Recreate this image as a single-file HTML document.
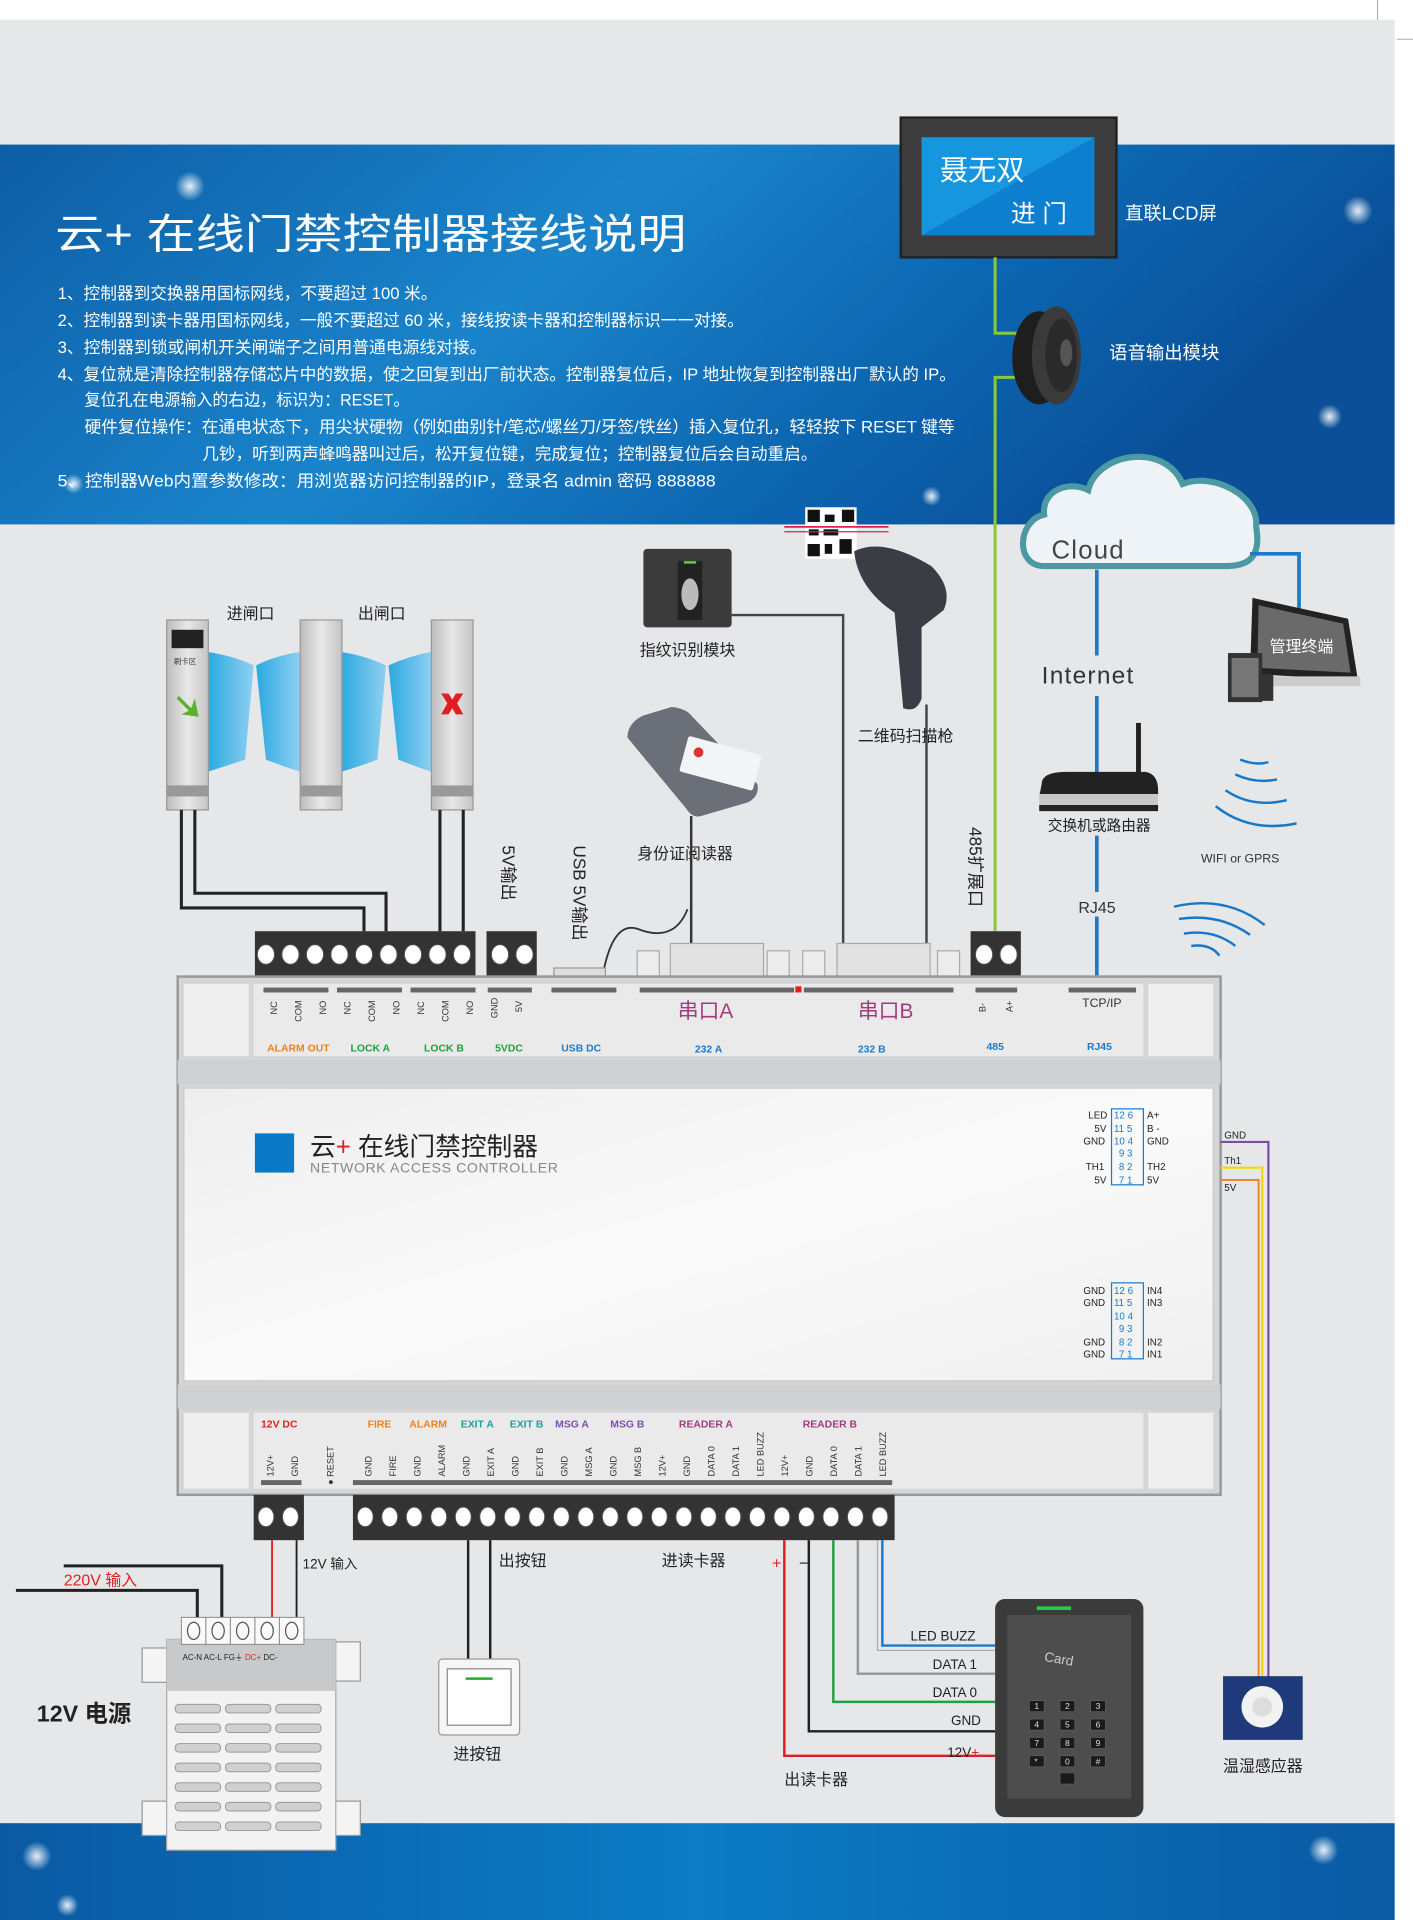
<!DOCTYPE html>
<html><head><meta charset="utf-8"><style>
html,body{margin:0;padding:0;background:#fff;}
svg{display:block;}
text{font-family:"Liberation Sans","Noto Sans CJK SC",sans-serif;}
</style></head><body>
<svg width="1413" height="1920" viewBox="0 0 1153 1567" preserveAspectRatio="none" xmlns="http://www.w3.org/2000/svg">
<defs>
<linearGradient id="blue" x1="0" y1="0" x2="1" y2="0.3">
<stop offset="0" stop-color="#0d5ea6"/><stop offset="0.45" stop-color="#1a84cb"/><stop offset="0.75" stop-color="#0c66b0"/><stop offset="1" stop-color="#0a4f98"/></linearGradient>
<linearGradient id="blue2" x1="0" y1="0" x2="1" y2="0">
<stop offset="0" stop-color="#0a5aa3"/><stop offset="0.5" stop-color="#0b7cc5"/><stop offset="1" stop-color="#0a5aa3"/></linearGradient>
<linearGradient id="glass" x1="0" y1="0" x2="1" y2="0"><stop offset="0" stop-color="#2aa9e0"/><stop offset="1" stop-color="#8fd0f2"/></linearGradient>
<linearGradient id="post" x1="0" y1="0" x2="1" y2="0"><stop offset="0" stop-color="#bcbcbc"/><stop offset="0.5" stop-color="#e8e8e8"/><stop offset="1" stop-color="#c4c4c4"/></linearGradient>
<linearGradient id="panel" x1="0" y1="0" x2="1" y2="1"><stop offset="0" stop-color="#eeeeee"/><stop offset="0.5" stop-color="#fafafa"/><stop offset="1" stop-color="#f0f0f0"/></linearGradient>
<radialGradient id="star"><stop offset="0" stop-color="#fff" stop-opacity="0.9"/><stop offset="1" stop-color="#fff" stop-opacity="0"/></radialGradient>
</defs>
<rect x="0" y="0" width="1153" height="1567" fill="#fff"/>
<rect x="0" y="16" width="1138" height="1551" fill="#e6e7e9"/>
<line x1="1124" y1="0" x2="1124" y2="16" stroke="#999" stroke-width="0.7"/>
<line x1="1140" y1="32" x2="1153" y2="32" stroke="#999" stroke-width="0.7"/>
<!-- blue band -->
<rect x="0" y="118" width="1138" height="310" fill="url(#blue)"/>
<circle cx="155" cy="152" r="12" fill="url(#star)"/><circle cx="1108" cy="172" r="12" fill="url(#star)"/><circle cx="1085" cy="340" r="10" fill="url(#star)"/><circle cx="60" cy="395" r="8" fill="url(#star)"/><circle cx="900" cy="150" r="6" fill="url(#star)"/><circle cx="760" cy="405" r="8" fill="url(#star)"/>
<rect x="0" y="1488" width="1138" height="79" fill="url(#blue2)"/>
<circle cx="30" cy="1515" r="12" fill="url(#star)"/><circle cx="1080" cy="1510" r="12" fill="url(#star)"/><circle cx="55" cy="1555" r="9" fill="url(#star)"/>
<!-- title -->
<text x="45" y="203" font-size="34" fill="#fff" textLength="515" lengthAdjust="spacingAndGlyphs">云+ 在线门禁控制器接线说明</text>
<g font-size="13.5" fill="#fff">
<text x="47" y="244" textLength="310" lengthAdjust="spacingAndGlyphs">1、控制器到交换器用国标网线，不要超过 100 米。</text>
<text x="47" y="266" textLength="560" lengthAdjust="spacingAndGlyphs">2、控制器到读卡器用国标网线，一般不要超过 60 米，接线按读卡器和控制器标识一一对接。</text>
<text x="47" y="288" textLength="350" lengthAdjust="spacingAndGlyphs">3、控制器到锁或闸机开关闸端子之间用普通电源线对接。</text>
<text x="47" y="310" textLength="733" lengthAdjust="spacingAndGlyphs">4、复位就是清除控制器存储芯片中的数据，使之回复到出厂前状态。控制器复位后，IP 地址恢复到控制器出厂默认的 IP。</text>
<text x="69" y="331" textLength="265" lengthAdjust="spacingAndGlyphs">复位孔在电源输入的右边，标识为：RESET。</text>
<text x="69" y="353" textLength="710" lengthAdjust="spacingAndGlyphs">硬件复位操作：在通电状态下，用尖状硬物（例如曲别针/笔芯/螺丝刀/牙签/铁丝）插入复位孔，轻轻按下 RESET 键等</text>
<text x="165" y="375" textLength="502" lengthAdjust="spacingAndGlyphs">几钞，听到两声蜂鸣器叫过后，松开复位键，完成复位；控制器复位后会自动重启。</text>
<text x="47" y="397" textLength="537" lengthAdjust="spacingAndGlyphs">5、控制器Web内置参数修改：用浏览器访问控制器的IP，登录名 admin  密码 888888</text>
</g>
<!-- LCD -->
<rect x="735" y="96" width="176" height="114" fill="#3d3c3c" stroke="#222" stroke-width="2"/>
<rect x="752" y="112" width="141" height="80" fill="#1596df"/>
<polygon points="752,192 893,112 893,192" fill="#0c80cf"/>
<text x="767" y="147" font-size="23" fill="#fff">聂无双</text>
<text x="825" y="181" font-size="20" fill="#fff">进 门</text>
<text x="918" y="179" font-size="15" fill="#fff">直联LCD屏</text>
<!-- green line -->
<polyline points="812,210 812,272 830,272" fill="none" stroke="#8cc63e" stroke-width="2.5"/>
<polyline points="830,308 812,308 812,760" fill="none" stroke="#8cc63e" stroke-width="2.5"/>
<!-- speaker -->
<ellipse cx="848" cy="292" rx="22" ry="38" fill="#1e1e1e"/>
<ellipse cx="862" cy="290" rx="20" ry="40" fill="#3a3a3a"/>
<ellipse cx="866" cy="290" rx="13" ry="30" fill="#2a2a2a"/>
<ellipse cx="870" cy="288" rx="5" ry="11" fill="#555"/>
<text x="905" y="293" font-size="15" fill="#fff">语音输出模块</text>
<!-- cloud -->
<path d="M852,462 C828,462 830,425 852,420 C850,400 872,392 888,400 C895,370 950,360 965,395 C990,385 1028,405 1025,430 C1030,458 1015,462 1000,462 Z" fill="#eef3f7" stroke="#4b9aa3" stroke-width="5"/>
<text x="858" y="456" font-size="21" fill="#444" letter-spacing="1">Cloud</text>
<polyline points="1020,452 1060,452 1060,505" fill="none" stroke="#1c7ac8" stroke-width="3"/>
<line x1="895" y1="465" x2="895" y2="535" stroke="#1c7ac8" stroke-width="3"/>
<line x1="895" y1="568" x2="895" y2="632" stroke="#1c7ac8" stroke-width="3"/>
<line x1="895" y1="682" x2="895" y2="728" stroke="#1c7ac8" stroke-width="3"/>
<line x1="895" y1="748" x2="895" y2="800" stroke="#1c7ac8" stroke-width="3"/>
<text x="850" y="558" font-size="20" fill="#333" letter-spacing="1">Internet</text>
<!-- monitor -->
<polygon points="1022,488 1100,505 1108,555 1020,550" fill="#222"/>
<polygon points="1027,494 1096,509 1102,549 1026,545" fill="#6a6a6a"/>
<rect x="1022" y="552" width="88" height="8" fill="#ccc"/>
<text x="1036" y="532" font-size="13" fill="#fff">管理终端</text>
<rect x="1002" y="533" width="28" height="40" fill="#333"/><rect x="1005" y="537" width="22" height="32" fill="#777"/>
<rect x="1027" y="550" width="12" height="22" fill="#333"/>
<!-- router -->
<rect x="927" y="590" width="4" height="45" fill="#222"/>
<path d="M850,640 Q850,630 870,630 L935,630 Q945,632 945,645 L945,650 L848,650 Z" fill="#222"/>
<rect x="848" y="648" width="97" height="10" fill="#c8c8c8"/>
<rect x="848" y="657" width="97" height="5" fill="#222"/>
<text x="855" y="678" font-size="12" fill="#222">交换机或路由器</text>
<g fill="none" stroke="#1878c8" stroke-width="2">
<path d="M1012,620 Q1025,625 1035,622"/><path d="M1008,632 Q1025,640 1042,636"/><path d="M1000,645 Q1022,660 1050,653"/><path d="M992,658 Q1020,680 1058,672"/>
<path d="M958,740 Q1000,730 1032,755"/><path d="M962,750 Q995,745 1020,763"/><path d="M966,762 Q990,758 1008,772"/><path d="M972,772 Q988,770 995,780"/>
</g>
<text x="980" y="704" font-size="10" fill="#333">WIFI or GPRS</text>
<text x="880" y="745" font-size="13" fill="#333">RJ45</text>
<!-- turnstiles -->
<path d="M169,532 Q190,535 207,543 L200,620 Q185,625 169,630 Z" fill="url(#glass)"/>
<path d="M209,543 Q225,535 245,532 L245,630 Q230,625 217,620 Z" fill="url(#glass)"/>
<path d="M278,532 Q298,535 315,543 L308,620 Q295,625 278,630 Z" fill="url(#glass)"/>
<path d="M317,543 Q335,535 352,532 L352,630 Q338,625 325,620 Z" fill="url(#glass)"/>
<g stroke="#999" stroke-width="1">
<rect x="136" y="506" width="34" height="155" fill="url(#post)"/>
<rect x="245" y="506" width="34" height="155" fill="url(#post)"/>
<rect x="352" y="506" width="34" height="155" fill="url(#post)"/>
</g>
<rect x="136" y="641" width="34" height="9" fill="#999"/><rect x="245" y="641" width="34" height="9" fill="#999"/><rect x="352" y="641" width="34" height="9" fill="#999"/>
<rect x="140" y="514" width="26" height="15" fill="#222"/>
<text x="142" y="542" font-size="6" fill="#333">刷卡区</text>
<path d="M146,568 L156,578 L159,570 L162,585 L148,583 L154,580 L144,570 Z" fill="#5bb030"/>
<path d="M360,566 L366,566 L369,571 L372,566 L378,566 L373,574 L378,583 L372,583 L369,578 L366,583 L360,583 L365,574 Z" fill="#e02020"/>
<text x="185" y="505" font-size="13" fill="#222">进闸口</text>
<text x="292" y="505" font-size="13" fill="#222">出闸口</text>
<g fill="none" stroke="#222" stroke-width="2.5">
<polyline points="148,661 148,741 297,741 297,760"/>
<polyline points="159,661 159,729 315,729 315,760"/>
<line x1="359" y1="661" x2="359" y2="760"/><line x1="378" y1="661" x2="378" y2="760"/>
</g>
<!-- fingerprint -->
<rect x="525" y="448" width="72" height="64" rx="3" fill="#3c3b3b"/>
<rect x="553" y="458" width="20" height="48" fill="#222"/>
<ellipse cx="563" cy="485" rx="7" ry="13" fill="#bbb"/>
<rect x="558" y="458" width="10" height="2" fill="#6c3"/>
<text x="522" y="535" font-size="13" fill="#222">指纹识别模块</text>
<polyline points="597,502 688,502 688,770" fill="none" stroke="#444" stroke-width="2"/>
<!-- QR -->
<rect x="657" y="414" width="42" height="42" fill="#fff"/>
<g fill="#111"><rect x="659" y="416" width="10" height="10"/><rect x="687" y="416" width="10" height="10"/><rect x="659" y="444" width="10" height="10"/><rect x="673" y="420" width="8" height="6"/><rect x="672" y="432" width="12" height="5"/><rect x="685" y="440" width="10" height="12"/><rect x="660" y="432" width="8" height="5"/><rect x="673" y="444" width="6" height="8"/></g>
<line x1="640" y1="430" x2="725" y2="430" stroke="#e0204a" stroke-width="1.5"/><line x1="640" y1="434" x2="725" y2="434" stroke="#e0204a" stroke-width="1"/>
<!-- scanner -->
<path d="M697,450 Q720,438 760,462 Q778,480 770,498 L752,512 L752,570 Q748,582 737,578 L730,500 Q700,480 697,450 Z" fill="#3b3d45"/>
<line x1="756" y1="575" x2="756" y2="770" stroke="#444" stroke-width="2"/>
<text x="700" y="605" font-size="13" fill="#222">二维码扫描枪</text>
<!-- ID reader -->
<path d="M512,602 Q512,590 525,584 L548,577 Q560,578 565,585 L618,640 Q620,650 610,655 L572,666 Q565,668 560,660 Z" fill="#6b6f78"/>
<rect x="557" y="608" width="62" height="30" rx="2" fill="#f2f4f8" transform="rotate(15 588 623)"/>
<circle cx="570" cy="614" r="4" fill="#d33"/>
<text x="520" y="701" font-size="13" fill="#222">身份证阅读器</text>
<path d="M564,666 L564,770" stroke="#333" stroke-width="2" fill="none"/>
<path d="M561,742 Q550,770 520,758 Q500,752 492,795" stroke="#333" stroke-width="1.5" fill="none"/>
<!-- vertical labels -->
<text x="0" y="0" font-size="14" fill="#222" transform="translate(410,690) rotate(90)">5V输出</text>
<text x="0" y="0" font-size="14" fill="#222" transform="translate(468,690) rotate(90)">USB 5V输出</text>
<text x="0" y="0" font-size="14" fill="#222" transform="translate(791,675) rotate(90)">485扩展口</text>
<!-- top connectors -->
<rect x="452" y="790" width="42" height="8" fill="#ddd" stroke="#999"/>
<g fill="#ececec" stroke="#aaa">
<rect x="520" y="776" width="18" height="22"/><rect x="626" y="776" width="18" height="22"/>
<rect x="655" y="776" width="18" height="22"/><rect x="765" y="776" width="18" height="22"/>
<rect x="547" y="770" width="76" height="28" fill="#e2e2e2"/><rect x="683" y="770" width="76" height="28" fill="#e2e2e2"/>
</g>
<g id="tt">
<rect x="208" y="760" width="180" height="38" fill="#333"/>
<rect x="397" y="760" width="41" height="38" fill="#333"/>
<rect x="792" y="760" width="41" height="38" fill="#333"/>
</g>
<g fill="#fff" stroke="#555" stroke-width="0.8">
<ellipse cx="217" cy="779" rx="7" ry="8"/><ellipse cx="237" cy="779" rx="7" ry="8"/><ellipse cx="257" cy="779" rx="7" ry="8"/>
<ellipse cx="277" cy="779" rx="7" ry="8"/><ellipse cx="297" cy="779" rx="7" ry="8"/><ellipse cx="317" cy="779" rx="7" ry="8"/>
<ellipse cx="337" cy="779" rx="7" ry="8"/><ellipse cx="357" cy="779" rx="7" ry="8"/><ellipse cx="377" cy="779" rx="7" ry="8"/>
<ellipse cx="408" cy="779" rx="7" ry="8"/><ellipse cx="428" cy="779" rx="7" ry="8"/>
<ellipse cx="803" cy="779" rx="7" ry="8"/><ellipse cx="823" cy="779" rx="7" ry="8"/>
</g>
<!-- controller -->
<rect x="145" y="797" width="851" height="423" fill="#d4d5d7" stroke="#999" stroke-width="2"/>
<rect x="150" y="803" width="53" height="59" fill="#eeeeef"/>
<rect x="207" y="803" width="726" height="59" fill="#eaeaeb"/>
<rect x="937" y="803" width="53" height="59" fill="#eeeeef"/>
<rect x="145" y="865" width="851" height="20" fill="#cfd0d2"/>
<rect x="150" y="888" width="840" height="239" fill="url(#panel)" stroke="#c8c8c8"/>
<rect x="145" y="1130" width="851" height="20" fill="#cfd0d2"/>
<rect x="150" y="1153" width="53" height="62" fill="#eeeeef"/>
<rect x="207" y="1153" width="726" height="62" fill="#eaeaeb"/>
<rect x="937" y="1153" width="53" height="62" fill="#eeeeef"/>
<g fill="#666">
<rect x="215" y="806" width="53" height="4"/><rect x="275" y="806" width="53" height="4"/><rect x="335" y="806" width="53" height="4"/><rect x="398" y="806" width="36" height="4"/><rect x="450" y="806" width="53" height="4"/><rect x="522" y="806" width="126" height="4"/><rect x="656" y="806" width="122" height="4"/><rect x="796" y="806" width="34" height="4"/><rect x="872" y="806" width="55" height="4"/>
</g>
<rect x="649" y="805" width="5" height="5" fill="#e02020"/>
<g font-size="7.5" fill="#333">
<text transform="translate(226,828) rotate(-90)">NC</text><text transform="translate(246,834) rotate(-90)">COM</text><text transform="translate(266,828) rotate(-90)">NO</text>
<text transform="translate(286,828) rotate(-90)">NC</text><text transform="translate(306,834) rotate(-90)">COM</text><text transform="translate(326,828) rotate(-90)">NO</text>
<text transform="translate(346,828) rotate(-90)">NC</text><text transform="translate(366,834) rotate(-90)">COM</text><text transform="translate(386,828) rotate(-90)">NO</text>
<text transform="translate(406,831) rotate(-90)">GND</text><text transform="translate(426,826) rotate(-90)">5V</text>
<text transform="translate(804,826) rotate(-90)">B-</text><text transform="translate(826,826) rotate(-90)">A+</text>
</g>
<text x="883" y="822" font-size="10" fill="#333">TCP/IP</text>
<text x="553" y="831" font-size="17" fill="#a23a7c">串口A</text>
<text x="700" y="831" font-size="17" fill="#a23a7c">串口B</text>
<g font-size="8.5" font-weight="bold">
<text x="218" y="858" fill="#f08020">ALARM OUT</text><text x="286" y="858" fill="#22a040">LOCK A</text><text x="346" y="858" fill="#22a040">LOCK B</text><text x="404" y="858" fill="#22a040">5VDC</text>
<text x="458" y="858" fill="#1a7acc">USB DC</text><text x="567" y="859" fill="#1a7acc">232  A</text><text x="700" y="859" fill="#1a7acc">232  B</text><text x="805" y="857" fill="#1a7acc">485</text><text x="887" y="857" fill="#1a7acc">RJ45</text>
</g>
<!-- logo -->
<rect x="208" y="925" width="32" height="32" fill="#0a7ac8"/>
<text x="253" y="943" font-size="21" fill="#222">云<tspan fill="#e02020">+</tspan> 在线门禁控制器</text>
<text x="253" y="957" font-size="11.5" fill="#888" letter-spacing="0.5">NETWORK ACCESS CONTROLLER</text>
<!-- pin tables -->
<g font-size="8" fill="#222">
<rect x="907" y="905" width="26" height="62" fill="none" stroke="#1a7acc"/>
<text x="888" y="913">LED</text><text x="893" y="924">5V</text><text x="884" y="934">GND</text><text x="886" y="955">TH1</text><text x="893" y="966">5V</text>
<text x="936" y="913">A+</text><text x="936" y="924">B -</text><text x="936" y="934">GND</text><text x="936" y="955">TH2</text><text x="936" y="966">5V</text>
<g fill="#1a7acc"><text x="909" y="913">12  6</text><text x="909" y="924">11  5</text><text x="909" y="934">10  4</text><text x="913" y="944">9  3</text><text x="913" y="955">8  2</text><text x="913" y="966">7  1</text></g>
<rect x="907" y="1047" width="26" height="62" fill="none" stroke="#1a7acc"/>
<text x="884" y="1056">GND</text><text x="884" y="1066">GND</text><text x="884" y="1098">GND</text><text x="884" y="1108">GND</text>
<text x="936" y="1056">IN4</text><text x="936" y="1066">IN3</text><text x="936" y="1098">IN2</text><text x="936" y="1108">IN1</text>
<g fill="#1a7acc"><text x="909" y="1056">12  6</text><text x="909" y="1066">11  5</text><text x="909" y="1077">10  4</text><text x="913" y="1087">9  3</text><text x="913" y="1098">8  2</text><text x="913" y="1108">7  1</text></g>
</g>
<!-- right wires -->
<polyline points="996,932 1035,932 1035,1370" fill="none" stroke="#7a4fa0" stroke-width="1.8"/>
<polyline points="996,953 1030,953 1030,1370" fill="none" stroke="#f5d800" stroke-width="1.8"/>
<polyline points="996,963 1027,963 1027,1370" fill="none" stroke="#f08020" stroke-width="1.5"/>
<g font-size="8" fill="#222"><text x="999" y="929">GND</text><text x="999" y="950">Th1</text><text x="999" y="972">5V</text></g>
<!-- bottom strip labels -->
<g font-size="8.5" font-weight="bold">
<text x="213" y="1165" fill="#e02020">12V  DC</text><text x="300" y="1165" fill="#f08020">FIRE</text><text x="334" y="1165" fill="#f08020">ALARM</text>
<text x="376" y="1165" fill="#20a0a0">EXIT  A</text><text x="416" y="1165" fill="#20a0a0">EXIT  B</text><text x="453" y="1165" fill="#7a4fb0">MSG  A</text><text x="498" y="1165" fill="#7a4fb0">MSG B</text>
<text x="554" y="1165" fill="#a23a7c">READER  A</text><text x="655" y="1165" fill="#a23a7c">READER  B</text>
</g>
<g font-size="7.5" fill="#333">
<text transform="translate(223,1205) rotate(-90)">12V+</text><text transform="translate(243,1205) rotate(-90)">GND</text><text transform="translate(272,1212) rotate(-90)">● RESET</text>
<text transform="translate(303,1205) rotate(-90)">GND</text><text transform="translate(323,1205) rotate(-90)">FIRE</text>
<text transform="translate(343,1205) rotate(-90)">GND</text><text transform="translate(363,1205) rotate(-90)">ALARM</text>
<text transform="translate(383,1205) rotate(-90)">GND</text><text transform="translate(403,1205) rotate(-90)">EXIT A</text>
<text transform="translate(423,1205) rotate(-90)">GND</text><text transform="translate(443,1205) rotate(-90)">EXIT B</text>
<text transform="translate(463,1205) rotate(-90)">GND</text><text transform="translate(483,1205) rotate(-90)">MSG A</text>
<text transform="translate(503,1205) rotate(-90)">GND</text><text transform="translate(523,1205) rotate(-90)">MSG B</text>
<text transform="translate(543,1205) rotate(-90)">12V+</text><text transform="translate(563,1205) rotate(-90)">GND</text><text transform="translate(583,1205) rotate(-90)">DATA 0</text><text transform="translate(603,1205) rotate(-90)">DATA 1</text><text transform="translate(623,1205) rotate(-90)">LED BUZZ</text>
<text transform="translate(643,1205) rotate(-90)">12V+</text><text transform="translate(663,1205) rotate(-90)">GND</text><text transform="translate(683,1205) rotate(-90)">DATA 0</text><text transform="translate(703,1205) rotate(-90)">DATA 1</text><text transform="translate(723,1205) rotate(-90)">LED BUZZ</text>
</g>
<g fill="#666"><rect x="213" y="1208" width="33" height="4"/><rect x="288" y="1208" width="440" height="4"/></g>
<!-- bottom terminals -->
<rect x="207" y="1220" width="41" height="37" fill="#333"/>
<rect x="288" y="1220" width="442" height="37" fill="#333"/>
<g fill="#fff" stroke="#555" stroke-width="0.8">
<ellipse cx="217" cy="1238" rx="6.5" ry="8"/><ellipse cx="237" cy="1238" rx="6.5" ry="8"/>
<ellipse cx="298" cy="1238" rx="6.5" ry="8"/><ellipse cx="318" cy="1238" rx="6.5" ry="8"/><ellipse cx="338" cy="1238" rx="6.5" ry="8"/><ellipse cx="358" cy="1238" rx="6.5" ry="8"/><ellipse cx="378" cy="1238" rx="6.5" ry="8"/><ellipse cx="398" cy="1238" rx="6.5" ry="8"/><ellipse cx="418" cy="1238" rx="6.5" ry="8"/><ellipse cx="438" cy="1238" rx="6.5" ry="8"/><ellipse cx="458" cy="1238" rx="6.5" ry="8"/><ellipse cx="478" cy="1238" rx="6.5" ry="8"/><ellipse cx="498" cy="1238" rx="6.5" ry="8"/><ellipse cx="518" cy="1238" rx="6.5" ry="8"/><ellipse cx="538" cy="1238" rx="6.5" ry="8"/><ellipse cx="558" cy="1238" rx="6.5" ry="8"/><ellipse cx="578" cy="1238" rx="6.5" ry="8"/><ellipse cx="598" cy="1238" rx="6.5" ry="8"/><ellipse cx="618" cy="1238" rx="6.5" ry="8"/><ellipse cx="638" cy="1238" rx="6.5" ry="8"/><ellipse cx="658" cy="1238" rx="6.5" ry="8"/><ellipse cx="678" cy="1238" rx="6.5" ry="8"/><ellipse cx="698" cy="1238" rx="6.5" ry="8"/><ellipse cx="718" cy="1238" rx="6.5" ry="8"/>
</g>
<!-- power wires -->
<line x1="222" y1="1257" x2="222" y2="1320" stroke="#e02020" stroke-width="1.5"/>
<line x1="242" y1="1257" x2="242" y2="1320" stroke="#222" stroke-width="1.5"/>
<polyline points="52,1278 181,1278 181,1320" fill="none" stroke="#222" stroke-width="2.5"/>
<polyline points="13,1298 161,1298 161,1320" fill="none" stroke="#222" stroke-width="2.5"/>
<text x="52" y="1294" font-size="13" fill="#e02020">220V  输入</text>
<text x="247" y="1280" font-size="11" fill="#222">12V 输入</text>
<!-- power supply -->
<rect x="116" y="1345" width="22" height="28" fill="#f4f4f4" stroke="#999"/><rect x="272" y="1340" width="22" height="32" fill="#f4f4f4" stroke="#999"/>
<rect x="116" y="1470" width="22" height="28" fill="#f4f4f4" stroke="#999"/><rect x="272" y="1470" width="22" height="28" fill="#f4f4f4" stroke="#999"/>
<rect x="136" y="1338" width="138" height="172" fill="#f2f2f2" stroke="#aaa"/>
<rect x="136" y="1338" width="138" height="42" fill="#c8c9cb"/>
<g fill="#fafafa" stroke="#888" stroke-width="0.8">
<rect x="148" y="1320" width="20" height="22"/><rect x="168" y="1320" width="20" height="22"/><rect x="188" y="1320" width="20" height="22"/><rect x="208" y="1320" width="20" height="22"/><rect x="228" y="1320" width="20" height="22"/>
</g>
<g fill="none" stroke="#555"><ellipse cx="158" cy="1331" rx="5" ry="7"/><ellipse cx="178" cy="1331" rx="5" ry="7"/><ellipse cx="198" cy="1331" rx="5" ry="7"/><ellipse cx="218" cy="1331" rx="5" ry="7"/><ellipse cx="238" cy="1331" rx="5" ry="7"/></g>
<text x="149" y="1355" font-size="6.5" fill="#222">AC-N AC-L FG⏚ <tspan fill="#e02020">DC+</tspan> DC-</text>
<g fill="#d0d0d0" stroke="#999" stroke-width="0.8">
<rect x="143" y="1391" width="37" height="7" rx="3"/><rect x="184" y="1391" width="37" height="7" rx="3"/><rect x="225" y="1391" width="37" height="7" rx="3"/>
<rect x="143" y="1407" width="37" height="7" rx="3"/><rect x="184" y="1407" width="37" height="7" rx="3"/><rect x="225" y="1407" width="37" height="7" rx="3"/>
<rect x="143" y="1423" width="37" height="7" rx="3"/><rect x="184" y="1423" width="37" height="7" rx="3"/><rect x="225" y="1423" width="37" height="7" rx="3"/>
<rect x="143" y="1439" width="37" height="7" rx="3"/><rect x="184" y="1439" width="37" height="7" rx="3"/><rect x="225" y="1439" width="37" height="7" rx="3"/>
<rect x="143" y="1455" width="37" height="7" rx="3"/><rect x="184" y="1455" width="37" height="7" rx="3"/><rect x="225" y="1455" width="37" height="7" rx="3"/>
<rect x="143" y="1471" width="37" height="7" rx="3"/><rect x="184" y="1471" width="37" height="7" rx="3"/><rect x="225" y="1471" width="37" height="7" rx="3"/>
<rect x="143" y="1487" width="37" height="7" rx="3"/><rect x="184" y="1487" width="37" height="7" rx="3"/><rect x="225" y="1487" width="37" height="7" rx="3"/>
</g>
<text x="30" y="1405" font-size="19" font-weight="bold" fill="#222">12V 电源</text>
<!-- exit button -->
<line x1="382" y1="1257" x2="382" y2="1355" stroke="#222" stroke-width="2"/>
<line x1="400" y1="1257" x2="400" y2="1355" stroke="#222" stroke-width="2"/>
<rect x="358" y="1354" width="66" height="62" rx="3" fill="#f6f6f6" stroke="#999"/>
<rect x="365" y="1362" width="52" height="46" fill="#fff" stroke="#888"/>
<rect x="380" y="1369" width="22" height="2" fill="#2a3"/>
<text x="370" y="1436" font-size="13" fill="#222">进按钮</text>
<text x="407" y="1278" font-size="13" fill="#222">出按钮</text>
<text x="540" y="1278" font-size="13" fill="#222">进读卡器</text>
<text x="630" y="1280" font-size="13" fill="#e02020">+</text>
<text x="652" y="1280" font-size="13" fill="#222">−</text>
<!-- reader wires -->
<g fill="none" stroke-width="2">
<polyline points="640,1257 640,1433 812,1433" stroke="#e02020"/>
<polyline points="660,1257 660,1413 812,1413" stroke="#222"/>
<polyline points="680,1257 680,1389 812,1389" stroke="#22a040"/>
<polyline points="700,1257 700,1366 812,1366" stroke="#999"/>
<polyline points="720,1257 720,1343 812,1343" stroke="#1a7acc"/>
<polyline points="716,1257 716,1347 812,1347" stroke="#aaa" stroke-width="1"/>
</g>
<g font-size="11" fill="#222">
<text x="743" y="1339">LED BUZZ</text><text x="761" y="1362">DATA 1</text><text x="761" y="1385">DATA 0</text><text x="776" y="1408">GND</text><text x="773" y="1434">12V<tspan fill="#e02020">+</tspan></text>
</g>
<text x="640" y="1457" font-size="13" fill="#222">出读卡器</text>
<!-- card reader -->
<rect x="812" y="1305" width="121" height="178" rx="8" fill="#3c3b3b"/>
<rect x="822" y="1318" width="101" height="150" fill="#4e4d4d"/>
<rect x="846" y="1311" width="28" height="3" fill="#2c4"/>
<text x="852" y="1358" font-size="11" fill="#ccc" transform="rotate(10 866 1355)">Card</text>
<g fill="#1a1a1a" stroke="#666" stroke-width="0.5">
<rect x="840" y="1388" width="12" height="9"/><rect x="865" y="1388" width="12" height="9"/><rect x="890" y="1388" width="12" height="9"/>
<rect x="840" y="1403" width="12" height="9"/><rect x="865" y="1403" width="12" height="9"/><rect x="890" y="1403" width="12" height="9"/>
<rect x="840" y="1418" width="12" height="9"/><rect x="865" y="1418" width="12" height="9"/><rect x="890" y="1418" width="12" height="9"/>
<rect x="840" y="1433" width="12" height="9"/><rect x="865" y="1433" width="12" height="9"/><rect x="890" y="1433" width="12" height="9"/>
<rect x="865" y="1447" width="12" height="9"/>
</g>
<g font-size="7" fill="#ddd"><text x="844" y="1395">1</text><text x="869" y="1395">2</text><text x="894" y="1395">3</text><text x="844" y="1410">4</text><text x="869" y="1410">5</text><text x="894" y="1410">6</text><text x="844" y="1425">7</text><text x="869" y="1425">8</text><text x="894" y="1425">9</text><text x="844" y="1440">*</text><text x="869" y="1440">0</text><text x="894" y="1440">#</text></g>
<!-- temp sensor -->
<rect x="998" y="1368" width="65" height="52" fill="#1e3a7a"/>
<circle cx="1030" cy="1393" r="17" fill="#f2f2f2"/><circle cx="1030" cy="1393" r="8" fill="#ddd"/>
<text x="998" y="1446" font-size="13" fill="#222">温湿感应器</text>
</svg>
</body></html>
